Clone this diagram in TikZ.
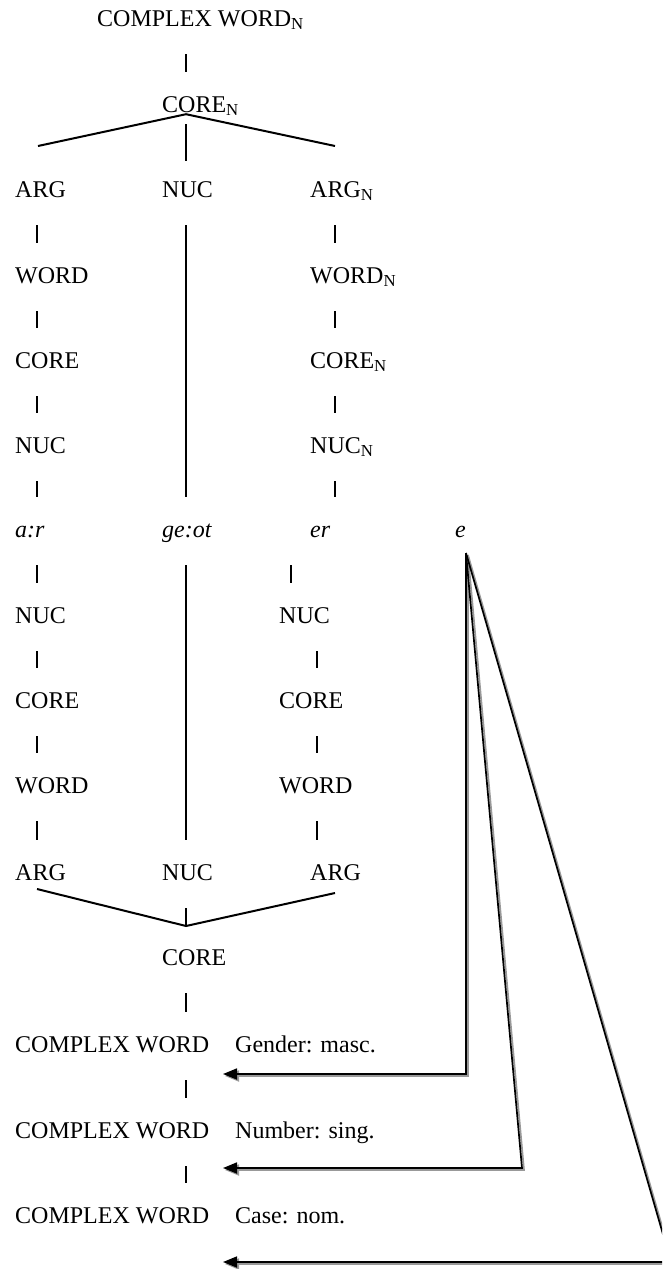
\documentclass[tikz,border=0pt]{standalone}
\usepackage{fontspec}
\setmainfont{Liberation Serif}
\usetikzlibrary{arrows.meta}

\tikzset{
  lbl/.style={anchor=base west, inner sep=0pt, text height=16pt, text depth=0pt,
    font=\fontsize{24}{28}\selectfont},
  bar/.style={line width=1.6pt, shorten <=28pt, shorten >=24pt},
  branch/.style={line width=2pt},
  feat/.style={line width=1.7pt, -{Triangle[length=14pt,width=11pt]}}
}

\begin{document}
\begin{tikzpicture}[x=1pt, y=-1pt]
    \useasboundingbox (0,0) rectangle (662,1269);
    \clip (0,0) rectangle (662,1269);
    % columns
    \coordinate (colL) at (37,0);
    \coordinate (colM) at (186,0);
    \coordinate (colR) at (335,0);
    \coordinate (colE) at (291,0);
    \coordinate (colS) at (317,0);

    % upper tree
    \node[lbl] (top) at (97,26) {COMPLEX WORD\textsubscript{N}};
    \node[lbl] (coreN) at (162,112) {CORE\textsubscript{N}};
    \node[lbl] (argL) at (15,197) {ARG};
    \node[lbl] (nucM) at (162,197) {NUC};
    \node[lbl] (argR) at (310,197) {ARG\textsubscript{N}};
    \node[lbl] (wordL) at (15,283) {WORD};
    \node[lbl] (wordR) at (310,283) {WORD\textsubscript{N}};
    \node[lbl] (coreL) at (15,368) {CORE};
    \node[lbl] (coreR) at (310,368) {CORE\textsubscript{N}};
    \node[lbl] (nucL) at (15,453) {NUC};
    \node[lbl] (nucR) at (310,453) {NUC\textsubscript{N}};

    % morphemes
    \node[lbl] (ar) at (15,537) {\itshape a:r};
    \node[lbl] (geot) at (162,537) {\itshape ge:ot};
    \node[lbl] (er) at (310,537) {\itshape er};
    \node[lbl] (e) at (455,537) {\itshape e};

    % lower tree
    \node[lbl] (nucL2) at (15,623) {NUC};
    \node[lbl] (nucR2) at (279,623) {NUC};
    \node[lbl] (coreL2) at (15,708) {CORE};
    \node[lbl] (coreR2) at (279,708) {CORE};
    \node[lbl] (wordL2) at (15,793) {WORD};
    \node[lbl] (wordR2) at (279,793) {WORD};
    \node[lbl] (argL2) at (15,880) {ARG};
    \node[lbl] (nucM2) at (162,880) {NUC};
    \node[lbl] (argR2) at (310,880) {ARG};
    \node[lbl] (coreM2) at (162,965) {CORE};
    \node[lbl] (cw1) at (15,1052) {COMPLEX WORD};
    \node[lbl] (cw2) at (15,1138) {COMPLEX WORD};
    \node[lbl] (cw3) at (15,1223) {COMPLEX WORD};
    \node[lbl] (gender) at (235,1052) {Gender: masc.};
    \node[lbl] (number) at (235,1138) {Number: sing.};
    \node[lbl] (caseF) at (235,1223) {Case: nom.};

    % branches
    \coordinate (apexT) at ([yshift=-2pt]coreN.south -| colM);
    \coordinate (brL) at (38,146);
    \coordinate (brR) at (335,146);
    \draw[branch] (brL) -- (apexT) -- (brR);
    \draw[bar] (top.south -| colM) -- (coreN.north -| colM);
    \draw[bar, shorten <=10pt, shorten >=20pt] (apexT) -- (nucM.north -| colM);

    \coordinate (apexB) at (186,926);
    \coordinate (brL2) at (37,889);
    \coordinate (brR2) at (335,893);
    \draw[branch] (brL2) -- (apexB) -- (brR2);
    \draw[bar, shorten >=0pt] (nucM2.south -| colM) -- (apexB);

    % vertical bars
    \foreach \a/\b in {argL/wordL, wordL/coreL, coreL/nucL, nucL/ar, ar/nucL2,
                       nucL2/coreL2, coreL2/wordL2, wordL2/argL2}
        \draw[bar] (\a.south -| colL) -- (\b.north -| colL);
    \foreach \a/\b in {argR/wordR, wordR/coreR, coreR/nucR, nucR/er}
        \draw[bar] (\a.south -| colR) -- (\b.north -| colR);
    \draw[bar] (er.south -| colE) -- (nucR2.north -| colE);
    \foreach \a/\b in {nucR2/coreR2, coreR2/wordR2, wordR2/argR2}
        \draw[bar] (\a.south -| colS) -- (\b.north -| colS);
    \foreach \a/\b in {nucM/geot, geot/nucM2, coreM2/cw1, cw1/cw2, cw2/cw3}
        \draw[bar] (\a.south -| colM) -- (\b.north -| colM);

    % features of e
    \coordinate (eroot) at (466,553);
    \coordinate (tipG) at (223,1074);
    \coordinate (bendN) at (522,1168);
    \coordinate (tipN) at (223,1168);
    \coordinate (bendC) at (671,1262);
    \coordinate (tipC) at (223,1262);
    \foreach \shade/\dx in {black!40/2, black/0} {
        \begin{scope}[color=\shade, transform canvas={shift={(\dx pt,-\dx pt)}}]
            \draw[feat] (eroot) |- (tipG);
            \draw[feat] (eroot) -- (bendN) -- (tipN);
            \draw[feat] (eroot) -- (bendC) -- (tipC);
        \end{scope}
    }
\end{tikzpicture}
\end{document}
